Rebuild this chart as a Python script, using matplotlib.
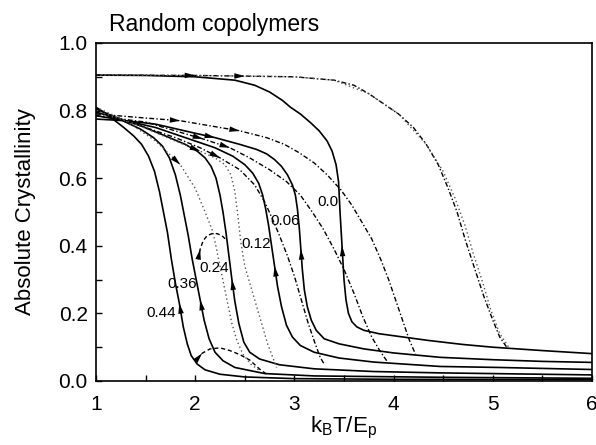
import matplotlib
matplotlib.use("Agg")
import matplotlib.pyplot as plt
import numpy as np

plt.rcParams['font.family'] = ['Liberation Sans', 'DejaVu Sans']
plt.rcParams['mathtext.fontset'] = 'custom'
plt.rcParams['mathtext.rm'] = 'Liberation Sans'
plt.rcParams['mathtext.it'] = 'Liberation Sans'

# ---------------- data ----------------
fractions = ["0.0", "0.06", "0.12", "0.24", "0.36", "0.44"]

# cooling curves (solid)
cool_00_x = [1.0, 1.5, 2.0, 2.4, 2.6, 2.75, 2.88, 2.96, 3.06, 3.16, 3.25, 3.33, 3.38, 3.42, 3.445, 3.46, 3.48, 3.50, 3.52, 3.545, 3.58, 3.63, 3.7, 3.85, 4.1, 4.35, 4.7, 5.0, 5.5, 6.0]
cool_00_y = [0.905, 0.904, 0.90, 0.89, 0.875, 0.855, 0.83, 0.81, 0.79, 0.765, 0.74, 0.71, 0.68, 0.64, 0.59, 0.50, 0.40, 0.30, 0.24, 0.20, 0.175, 0.16, 0.15, 0.14, 0.13, 0.12, 0.108, 0.10, 0.09, 0.081]

cool_06_x = [1.0, 1.3, 1.6, 1.97, 2.2, 2.45, 2.62, 2.72, 2.8, 2.87, 2.93, 2.98, 3.01, 3.03, 3.05, 3.065, 3.08, 3.10, 3.13, 3.17, 3.22, 3.3, 3.45, 3.7, 4.0, 4.47, 5.0, 5.5, 6.0]
cool_06_y = [0.775, 0.77, 0.76, 0.735, 0.72, 0.70, 0.685, 0.672, 0.655, 0.635, 0.61, 0.58, 0.55, 0.51, 0.45, 0.39, 0.33, 0.27, 0.22, 0.18, 0.15, 0.125, 0.11, 0.095, 0.083, 0.07, 0.063, 0.058, 0.055]

cool_12_x = [1.0, 1.3, 1.6, 1.95, 2.2, 2.38, 2.5, 2.58, 2.64, 2.68, 2.71, 2.74, 2.77, 2.80, 2.83, 2.87, 2.92, 2.98, 3.06, 3.2, 3.45, 3.8, 4.47, 5.07, 6.0]
cool_12_y = [0.785, 0.77, 0.75, 0.715, 0.69, 0.665, 0.64, 0.615, 0.585, 0.55, 0.51, 0.46, 0.40, 0.34, 0.28, 0.22, 0.165, 0.13, 0.105, 0.085, 0.068, 0.056, 0.043, 0.04, 0.034]

cool_24_x = [1.0, 1.2, 1.45, 1.7, 1.9, 2.02, 2.1, 2.16, 2.21, 2.25, 2.28, 2.31, 2.34, 2.37, 2.40, 2.44, 2.49, 2.55, 2.65, 2.85, 3.2, 3.8, 4.47, 6.0]
cool_24_y = [0.795, 0.78, 0.755, 0.725, 0.70, 0.68, 0.66, 0.635, 0.60, 0.55, 0.50, 0.44, 0.37, 0.30, 0.235, 0.17, 0.115, 0.085, 0.065, 0.048, 0.036, 0.028, 0.024, 0.018]

cool_36_x = [1.0, 1.12, 1.27, 1.45, 1.58, 1.67, 1.74, 1.80, 1.85, 1.89, 1.93, 1.97, 2.01, 2.05, 2.09, 2.14, 2.2, 2.28, 2.4, 2.7, 3.2, 4.47, 6.0]
cool_36_y = [0.805, 0.79, 0.77, 0.745, 0.72, 0.695, 0.66, 0.61, 0.55, 0.49, 0.43, 0.36, 0.30, 0.24, 0.18, 0.125, 0.085, 0.06, 0.04, 0.022, 0.015, 0.011, 0.008]

cool_44_x = [1.0, 1.08, 1.17, 1.28, 1.38, 1.46, 1.53, 1.59, 1.64, 1.68, 1.72, 1.76, 1.80, 1.84, 1.88, 1.92, 1.96, 2.02, 2.1, 2.25, 2.5, 3.0, 4.0, 6.0]
cool_44_y = [0.81, 0.795, 0.775, 0.75, 0.725, 0.70, 0.665, 0.62, 0.56, 0.50, 0.44, 0.36, 0.29, 0.23, 0.16, 0.11, 0.075, 0.05, 0.033, 0.02, 0.012, 0.007, 0.005, 0.004]

# heating curves (dash-dot)
heat_00_x = [1.0, 2.0, 2.5, 3.0, 3.4, 3.6, 3.75, 3.9, 4.05, 4.2, 4.33, 4.45, 4.55, 4.64, 4.72, 4.82, 4.91, 5.0, 5.07, 5.14]
heat_00_y = [0.905, 0.904, 0.902, 0.90, 0.89, 0.875, 0.85, 0.82, 0.79, 0.75, 0.70, 0.64, 0.57, 0.50, 0.42, 0.33, 0.25, 0.18, 0.13, 0.10]

dot_00_x = [1.0, 2.0, 3.0, 3.4, 3.75, 4.05, 4.33, 4.5, 4.62, 4.72, 4.8, 4.9, 4.98, 5.07, 5.16]
dot_00_y = [0.905, 0.904, 0.90, 0.89, 0.85, 0.79, 0.70, 0.62, 0.54, 0.46, 0.38, 0.29, 0.21, 0.14, 0.10]

heat_06_x = [1.0, 1.5, 1.85, 2.15, 2.45, 2.72, 2.9, 3.05, 3.2, 3.33, 3.47, 3.58, 3.68, 3.78, 3.87, 3.95, 4.02, 4.09, 4.16, 4.22]
heat_06_y = [0.79, 0.778, 0.77, 0.755, 0.74, 0.72, 0.70, 0.675, 0.645, 0.61, 0.565, 0.52, 0.47, 0.42, 0.36, 0.30, 0.24, 0.18, 0.12, 0.08]

heat_12_x = [1.0, 1.5, 1.8, 2.08, 2.35, 2.55, 2.75, 2.92, 3.06, 3.18, 3.29, 3.40, 3.5, 3.6, 3.69, 3.78, 3.86, 3.93]
heat_12_y = [0.785, 0.766, 0.74, 0.716, 0.69, 0.66, 0.625, 0.59, 0.55, 0.50, 0.45, 0.39, 0.33, 0.26, 0.19, 0.13, 0.09, 0.06]

heat_24_x = [1.0, 1.4, 1.8, 2.05, 2.25, 2.45, 2.6, 2.7, 2.77, 2.85, 2.93, 3.0, 3.07, 3.14, 3.21, 3.26, 3.3]
heat_24_y = [0.795, 0.76, 0.72, 0.69, 0.66, 0.625, 0.58, 0.53, 0.485, 0.43, 0.37, 0.31, 0.24, 0.17, 0.11, 0.07, 0.05]

# dotted curves
dot_36_x = [1.0, 1.4, 1.8, 2.05, 2.2, 2.3, 2.36, 2.40, 2.43, 2.46, 2.50, 2.55, 2.61, 2.67, 2.73, 2.82]
dot_36_y = [0.80, 0.76, 0.71, 0.68, 0.66, 0.64, 0.61, 0.56, 0.49, 0.41, 0.34, 0.29, 0.23, 0.17, 0.11, 0.04]

dot_44_x = [1.0, 1.3, 1.6, 1.85, 2.0, 2.1, 2.18, 2.25, 2.32, 2.37, 2.42, 2.48, 2.56, 2.65]
dot_44_y = [0.81, 0.77, 0.71, 0.64, 0.57, 0.50, 0.44, 0.34, 0.24, 0.17, 0.12, 0.08, 0.05, 0.03]

# dashed partial loops
loop_top_x = [2.03, 2.05, 2.08, 2.12, 2.17, 2.22, 2.27, 2.31]
loop_top_y = [0.36, 0.39, 0.415, 0.43, 0.436, 0.436, 0.43, 0.418]
loop_bot_x = [2.02, 2.07, 2.15, 2.25, 2.35, 2.45, 2.55, 2.65, 2.72]
loop_bot_y = [0.065, 0.082, 0.095, 0.098, 0.09, 0.078, 0.062, 0.035, 0.02]

# label positions / texts
label_x = [3.34, 2.905, 2.61, 2.19, 1.87, 1.655]
label_y = [0.53, 0.473, 0.405, 0.334, 0.287, 0.20]

# ---------------- figure ----------------
fig = plt.figure(figsize=(5.96, 4.45), dpi=100)
ax = fig.add_axes([96/596, 1 - 381/445, (592-96)/596, (381-43)/445])

lw_s = 1.2
lw_d = 1.0
dashdot = (0, (3.5, 1.6, 1, 1.6))
dotted = (0, (1, 2))

cools = [(cool_00_x, cool_00_y), (cool_06_x, cool_06_y), (cool_12_x, cool_12_y),
         (cool_24_x, cool_24_y), (cool_36_x, cool_36_y), (cool_44_x, cool_44_y)]
for cx, cy in cools:
    ax.plot(cx, cy, color='black', lw=lw_s, solid_joinstyle='round')

heats = [(heat_00_x, heat_00_y), (heat_06_x, heat_06_y), (heat_12_x, heat_12_y), (heat_24_x, heat_24_y)]
for hx, hy in heats:
    ax.plot(hx, hy, color='black', lw=lw_d, linestyle=dashdot)

ax.plot(dot_00_x, dot_00_y, color='#555555', lw=1.0, linestyle=dotted)
ax.plot(dot_36_x, dot_36_y, color='#555555', lw=1.0, linestyle=dotted)
ax.plot(dot_44_x, dot_44_y, color='#555555', lw=1.0, linestyle=dotted)
ax.plot(loop_top_x, loop_top_y, color='black', lw=1.0, linestyle=(0, (3, 2)))
ax.plot(loop_bot_x, loop_bot_y, color='black', lw=1.0, linestyle=(0, (3, 2)))


def arrow_on(xs, ys, i, reverse=False):
    xs = np.asarray(xs, float)
    ys = np.asarray(ys, float)
    if reverse:
        tip = (xs[i], ys[i])
    else:
        tip = (xs[i + 1], ys[i + 1])
    tail = (0.5 * (xs[i] + xs[i + 1]), 0.5 * (ys[i] + ys[i + 1]))
    ax.annotate('', xy=tip, xytext=tail,
                arrowprops=dict(arrowstyle='-|>,head_length=0.75,head_width=0.2',
                                color='black', lw=0.01, shrinkA=0, shrinkB=0))

# upward arrows on cooling curves (steep parts)
arrow_on(cool_00_x, cool_00_y, 16, reverse=True)
arrow_on(cool_06_x, cool_06_y, 15, reverse=True)
arrow_on(cool_12_x, cool_12_y, 13, reverse=True)
arrow_on(cool_24_x, cool_24_y, 13, reverse=True)
arrow_on(cool_36_x, cool_36_y, 13, reverse=True)
arrow_on(cool_44_x, cool_44_y, 13, reverse=True)
# arrows along top plateau / upper cluster
arrow_on(heat_00_x, heat_00_y, 0)
arrow_on(heat_00_x, heat_00_y, 1)
arrow_on(heat_06_x, heat_06_y, 1)
arrow_on(heat_06_x, heat_06_y, 3)
arrow_on(heat_12_x, heat_12_y, 2)
arrow_on(cool_06_x, cool_06_y, 3)
arrow_on(heat_24_x, heat_24_y, 3)
arrow_on(dot_36_x, dot_36_y, 2)
arrow_on(dot_44_x, dot_44_y, 2)
arrow_on(heat_12_x, heat_12_y, 3)
arrow_on(loop_top_x, loop_top_y, 0)
arrow_on(loop_bot_x, loop_bot_y, 0)

for lx, ly, t in zip(label_x, label_y, fractions):
    ax.text(lx, ly, t, fontsize=11, ha='center', va='center')

ax.set_xlim(1, 6)
ax.set_ylim(0, 1.0)
ax.set_xticks([1, 2, 3, 4, 5, 6])
ax.set_xticks(np.arange(1.5, 6, 1.0), minor=True)
ax.set_yticks([0.0, 0.2, 0.4, 0.6, 0.8, 1.0])
ax.set_yticklabels(["0.0", "0.2", "0.4", "0.6", "0.8", "1.0"])
ax.set_yticks(np.arange(0.1, 1.0, 0.2), minor=True)
ax.tick_params(which='both', direction='in', length=4, width=1, labelsize=15,
               top=False, right=False)
ax.tick_params(axis='x', pad=10)
ax.tick_params(axis='y', pad=6)
for s in ax.spines.values():
    s.set_linewidth(1.2)

ax.set_xlabel(r'$\mathregular{k_BT/E_p}$', fontsize=16, labelpad=1)
ax.set_ylabel('Absolute Crystallinity', fontsize=16, labelpad=16)
fig.text(109/596, 1 - 25/445, 'Random copolymers', fontsize=16.5, ha='left', va='center')

fig.savefig('out.png', dpi=100)
